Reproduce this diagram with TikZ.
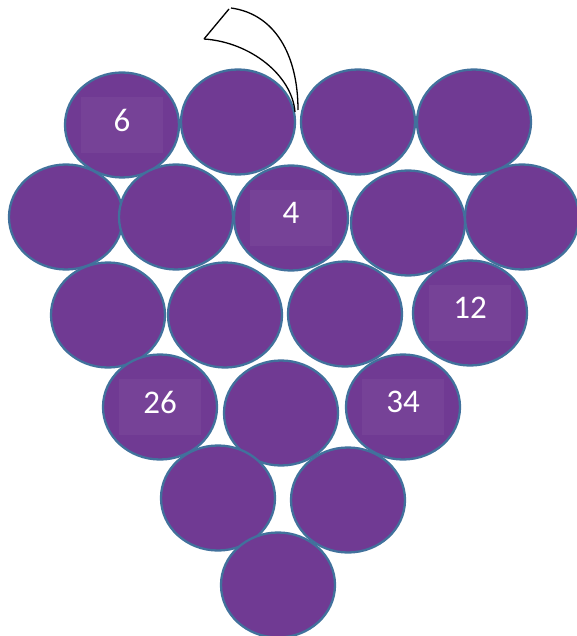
\documentclass[tikz,border=0pt]{standalone}
\usepackage{fontspec}
\setmainfont{Carlito}
\usetikzlibrary{shapes.geometric}
\definecolor{grapefill}{HTML}{703A93}
\definecolor{grapeline}{HTML}{41719C}
\tikzset{
  grape/.style={ellipse,draw=grapeline,fill=grapefill,line width=2.3pt,
    minimum width=114pt,minimum height=105pt,inner sep=0pt},
  numbox/.style={rectangle,fill=grapefill!96!white,text=white,inner sep=0pt,
    minimum width=82pt,minimum height=56pt,text depth=10pt,
    font=\fontsize{33}{40}\selectfont},
  stem/.style={draw=black,line width=1.3pt}
}
\begin{document}
\begin{tikzpicture}[x=1pt,y=-1pt]
  \useasboundingbox (0,0) rectangle (577,636);
  % row 1
  \node[grape] (r1a) at (122,125) {};
  \node[grape] (r1b) at (238,122) {};
  \node[grape] (r1c) at (358,122) {};
  \node[grape] (r1d) at (474,122) {};
  % row 2
  \node[grape] (r2a) at (66,217) {};
  \node[grape] (r2b) at (176,217) {};
  \node[grape] (r2c) at (291,218) {};
  \node[grape] (r2d) at (408,223) {};
  \node[grape] (r2e) at (522,217) {};
  % row 3
  \node[grape] (r3a) at (108,315) {};
  \node[grape] (r3b) at (225,315) {};
  \node[grape] (r3c) at (345,314) {};
  \node[grape] (r3d) at (470,313) {};
  % row 4
  \node[grape] (r4a) at (160,407) {};
  \node[grape] (r4b) at (281,413) {};
  \node[grape] (r4c) at (403,407) {};
  % row 5 and 6
  \node[grape] (r5a) at (218,498) {};
  \node[grape] (r5b) at (348,500) {};
  \node[grape] (r6a) at (278,585) {};
  % numbers
  \node[numbox] (n6) at (r1a) {6};
  \node[numbox] (n4) at (r2c) {4};
  \node[numbox] (n12) at (r3d) {12};
  \node[numbox] (n26) at (r4a) {26};
  \node[numbox] (n34) at (r4c) {34};
  % stem
  \draw[stem] (231,8) .. controls (275,14) and (298,55) .. (298,110);
  \draw[stem] (204,39) .. controls (250,42) and (292,75) .. (295,112);
  \draw[stem] (229,9) -- (204,39);
\end{tikzpicture}
\end{document}
